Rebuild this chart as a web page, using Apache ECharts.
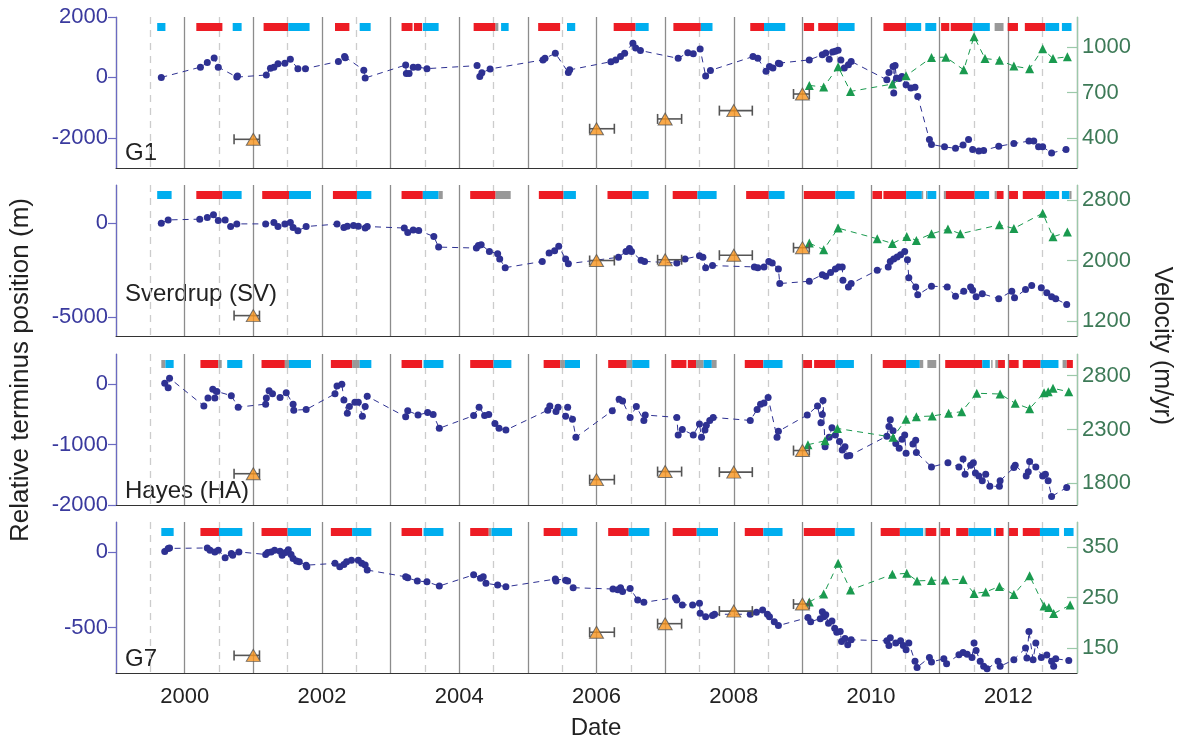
<!DOCTYPE html>
<html>
<head>
<meta charset="utf-8">
<script src="https://cdn.jsdelivr.net/npm/echarts@6/dist/echarts.min.js"></script>
<style>
  html, body { margin: 0; padding: 0; background: #fff; }
  #chart { width: 1182px; height: 742px; }
</style>
</head>
<body>
<div id="chart"></div>
<script>
// x axis
const xMin = 1999
const xMax = 2013
const xLabelYears = [2000, 2002, 2004, 2006, 2008, 2010, 2012]

// panel names
const panelNames = ['G1', 'Sverdrup (SV)', 'Hayes (HA)', 'G7']

// left (terminus) and right (velocity) axis ranges and tick labels
const leftRanges = [[-3000, 2000], [-6000, 2000], [-2000, 500], [-800, 200]]
const leftTicks = [[-2000, 0, 2000], [-5000, 0], [-2000, -1000, 0], [-500, 0]]
const rightRanges = [[200, 1200], [1000, 3000], [1600, 3000], [100, 400]]
const rightTicks = [[400, 700, 1000], [1200, 2000, 2800], [1800, 2300, 2800], [150, 250, 350]]

// terminus positions [decimal year, m]
const g1Pos = [
  [1999.66, 0], [2000.23, 340], [2000.33, 490], [2000.43, 640], [2000.49, 340], [2000.76, 10], [2000.77, 50],
  [2001.19, 80], [2001.25, 300], [2001.30, 340], [2001.36, 450], [2001.46, 470], [2001.54, 600], [2001.65, 290], [2001.76, 290],
  [2002.24, 530], [2002.33, 690], [2002.34, 650], [2002.61, 240], [2002.63, -20],
  [2003.22, 410], [2003.23, 130], [2003.27, 130], [2003.33, 340], [2003.40, 340], [2003.53, 290],
  [2004.26, 390], [2004.30, 30], [2004.33, 150], [2004.45, 280],
  [2005.22, 580], [2005.25, 630], [2005.40, 800], [2005.59, 160], [2005.61, 250],
  [2006.21, 520], [2006.28, 580], [2006.35, 690], [2006.41, 800], [2006.53, 1130], [2006.57, 970], [2006.64, 890],
  [2007.19, 630], [2007.33, 820], [2007.41, 780], [2007.51, 940], [2007.59, 50], [2007.66, 230],
  [2008.28, 690], [2008.35, 630], [2008.47, 200], [2008.52, 360], [2008.57, 310], [2008.65, 470], [2008.67, 450],
  [2009.10, 580], [2009.29, 750], [2009.34, 810], [2009.39, 600], [2009.44, 840], [2009.48, 870], [2009.52, 900],
  [2009.56, 580], [2009.61, 310], [2009.67, 420], [2009.71, 530],
  [2010.23, -80], [2010.26, 160], [2010.32, 360], [2010.33, -520], [2010.35, 390], [2010.37, -20], [2010.41, -40],
  [2010.45, 30], [2010.51, -240], [2010.58, -350], [2010.64, -330], [2010.68, -630], [2010.85, -2060], [2010.88, -2220],
  [2011.07, -2300], [2011.23, -2350], [2011.34, -2240], [2011.42, -2060], [2011.48, -2390], [2011.57, -2440], [2011.64, -2420],
  [2011.86, -2280], [2012.08, -2190], [2012.30, -2110], [2012.37, -2110], [2012.44, -2300], [2012.50, -2300],
  [2012.63, -2500], [2012.84, -2390]
]
const svPos = [
  [1999.66, -20], [1999.76, 150], [2000.22, 190], [2000.33, 280], [2000.42, 430], [2000.49, 120], [2000.59, 150],
  [2000.67, -200], [2000.76, -60], [2001.18, -60], [2001.30, 10], [2001.36, -200], [2001.46, -60], [2001.54, 10],
  [2001.58, -250], [2001.65, -430], [2001.77, -200], [2002.22, -70], [2002.32, -250], [2002.37, -180], [2002.46, -150],
  [2002.53, -180], [2002.63, -280], [2002.66, -200], [2003.20, -280], [2003.25, -520], [2003.33, -380], [2003.41, -410],
  [2003.63, -730], [2003.70, -1290], [2004.25, -1340], [2004.28, -1200], [2004.32, -1160], [2004.44, -1520],
  [2004.56, -1640], [2004.59, -1920], [2004.67, -2380], [2005.21, -2050], [2005.31, -1600], [2005.39, -1480],
  [2005.45, -1250], [2005.55, -1920], [2005.59, -2170], [2006.32, -1830], [2006.43, -1520], [2006.48, -1360],
  [2006.51, -1520], [2006.65, -1990], [2006.70, -2050], [2007.17, -2130], [2007.29, -1920], [2007.50, -1750],
  [2007.55, -1830], [2007.59, -2390], [2007.69, -2270], [2008.30, -2340], [2008.35, -2390], [2008.44, -2340],
  [2008.51, -2050], [2008.56, -2130], [2008.65, -2450], [2008.67, -3220], [2009.10, -3100], [2009.29, -2750],
  [2009.34, -2840], [2009.41, -2630], [2009.48, -2450], [2009.53, -2340], [2009.58, -2340], [2009.59, -3050],
  [2009.67, -3400], [2009.71, -3220], [2010.09, -2520], [2010.25, -2340], [2010.28, -2050], [2010.33, -1920],
  [2010.38, -1810], [2010.43, -1690], [2010.49, -1520], [2010.53, -1960], [2010.55, -2920], [2010.65, -3400],
  [2010.68, -3820], [2010.88, -3360], [2011.11, -3400], [2011.23, -3890], [2011.35, -3630], [2011.45, -3400],
  [2011.48, -3580], [2011.53, -3920], [2011.62, -3760], [2011.86, -4030], [2012.05, -3630], [2012.09, -3980],
  [2012.25, -3540], [2012.34, -3330], [2012.48, -3450], [2012.56, -3710], [2012.63, -3920], [2012.69, -4030],
  [2012.85, -4330]
]
const haPos = [
  [1999.71, 15], [1999.76, -60], [1999.78, 100], [2000.28, -360], [2000.34, -230], [2000.41, -85], [2000.44, -230],
  [2000.47, -120], [2000.68, -190], [2000.78, -380], [2001.18, -330], [2001.19, -230], [2001.23, -110], [2001.28, -160],
  [2001.39, -220], [2001.48, -140], [2001.58, -330], [2001.59, -430], [2001.77, -420], [2002.19, -160], [2002.22, -30],
  [2002.29, 0], [2002.32, -260], [2002.37, -480], [2002.40, -370], [2002.48, -300], [2002.53, -300], [2002.59, -530],
  [2002.63, -370], [2002.66, -200], [2003.22, -540], [2003.25, -440], [2003.40, -510], [2003.54, -470], [2003.62, -500],
  [2003.71, -730], [2004.21, -520], [2004.29, -380], [2004.37, -520], [2004.43, -500], [2004.52, -650], [2004.58, -730],
  [2004.68, -760], [2005.29, -430], [2005.32, -360], [2005.41, -450], [2005.44, -380], [2005.55, -530], [2005.58, -380],
  [2005.65, -580], [2005.70, -880], [2006.23, -440], [2006.33, -250], [2006.38, -280], [2006.49, -550], [2006.58, -370],
  [2006.69, -600], [2006.71, -510], [2007.17, -550], [2007.19, -840], [2007.25, -750], [2007.41, -840], [2007.50, -660],
  [2007.53, -880], [2007.58, -760], [2007.60, -680], [2007.65, -600], [2007.70, -550], [2008.24, -600], [2008.34, -420],
  [2008.39, -330], [2008.44, -310], [2008.50, -220], [2008.63, -880], [2008.65, -780], [2009.07, -510], [2009.22, -360],
  [2009.27, -640], [2009.29, -500], [2009.30, -270], [2009.33, -1035], [2009.39, -880], [2009.43, -720], [2009.48, -840],
  [2009.54, -950], [2009.58, -1090], [2009.62, -1035], [2009.65, -1190], [2009.69, -1180], [2010.23, -860], [2010.26, -700],
  [2010.28, -590], [2010.32, -770], [2010.36, -980], [2010.41, -1060], [2010.45, -910], [2010.49, -840], [2010.51, -1145],
  [2010.61, -990], [2010.65, -930], [2010.66, -1130], [2010.88, -1370], [2011.12, -1300], [2011.28, -1370], [2011.34, -1240],
  [2011.37, -1490], [2011.45, -1340], [2011.49, -1300], [2011.52, -1470], [2011.57, -1520], [2011.62, -1600], [2011.67, -1490],
  [2011.73, -1690], [2011.87, -1690], [2011.88, -1600], [2012.08, -1380], [2012.10, -1340], [2012.26, -1520], [2012.29, -1450],
  [2012.31, -1280], [2012.40, -1370], [2012.50, -1520], [2012.54, -1490], [2012.58, -1600], [2012.63, -1860], [2012.85, -1710]
]
const g7Pos = [
  [1999.71, 5], [1999.76, 25], [1999.78, 28], [2000.33, 28], [2000.37, 13], [2000.44, 2], [2000.49, 13], [2000.59, -37],
  [2000.68, -9], [2000.70, -20], [2000.79, 2], [2001.18, -15], [2001.21, -2], [2001.26, 2], [2001.31, 13], [2001.39, 6],
  [2001.42, -20], [2001.47, -2], [2001.51, 17], [2001.55, -15], [2001.58, -41], [2001.63, -59], [2001.67, -63], [2001.77, -86],
  [2001.78, -96], [2002.19, -74], [2002.26, -96], [2002.32, -81], [2002.36, -64], [2002.43, -53], [2002.53, -53], [2002.58, -74],
  [2002.63, -85], [2002.66, -118], [2003.22, -163], [2003.25, -170], [2003.39, -191], [2003.53, -196], [2003.71, -224],
  [2004.21, -150], [2004.31, -173], [2004.35, -163], [2004.39, -206], [2004.56, -218], [2004.68, -229], [2005.40, -178],
  [2005.41, -191], [2005.55, -185], [2005.58, -191], [2005.66, -235], [2006.24, -244], [2006.31, -249], [2006.35, -235],
  [2006.38, -260], [2006.49, -240], [2006.60, -316], [2006.69, -332], [2007.15, -301], [2007.17, -316], [2007.25, -349],
  [2007.40, -349], [2007.50, -338], [2007.51, -404], [2007.59, -427], [2007.69, -420], [2007.72, -411], [2008.24, -411],
  [2008.33, -398], [2008.42, -382], [2008.49, -411], [2008.52, -427], [2008.59, -460], [2008.65, -486], [2009.08, -433],
  [2009.12, -460], [2009.26, -440], [2009.29, -394], [2009.31, -427], [2009.34, -415], [2009.38, -470], [2009.43, -456],
  [2009.47, -503], [2009.50, -530], [2009.55, -525], [2009.57, -592], [2009.62, -572], [2009.66, -613], [2009.71, -580],
  [2010.23, -587], [2010.26, -618], [2010.28, -567], [2010.36, -602], [2010.43, -587], [2010.47, -618], [2010.51, -646],
  [2010.55, -602], [2010.64, -723], [2010.67, -763], [2010.85, -697], [2010.88, -727], [2011.06, -706], [2011.10, -738],
  [2011.28, -679], [2011.34, -664], [2011.40, -675], [2011.47, -697], [2011.50, -602], [2011.53, -651], [2011.59, -723],
  [2011.64, -756], [2011.69, -772], [2011.85, -723], [2011.88, -756], [2012.08, -712], [2012.25, -635], [2012.27, -701],
  [2012.30, -525], [2012.36, -712], [2012.40, -602], [2012.48, -697], [2012.56, -681], [2012.63, -723], [2012.66, -756],
  [2012.69, -706], [2012.88, -717]
]

// velocity time series [decimal year, m/yr]
const g1Vel = [
  [2009.10, 747], [2009.31, 736], [2009.52, 870], [2009.70, 707], [2010.31, 756], [2010.51, 811], [2010.88, 932],
  [2011.09, 934], [2011.35, 850], [2011.50, 1070], [2011.66, 925], [2011.87, 914], [2012.08, 875], [2012.31, 857],
  [2012.50, 989], [2012.65, 925], [2012.86, 936]
]
const svVel = [
  [2009.10, 2231], [2009.31, 2143], [2009.52, 2429], [2010.09, 2288], [2010.31, 2226], [2010.52, 2319], [2010.66, 2266],
  [2010.88, 2354], [2011.12, 2416], [2011.30, 2354], [2011.87, 2473], [2012.08, 2424], [2012.50, 2627], [2012.65, 2314],
  [2012.86, 2376]
]
const haVel = [
  [2009.08, 2159], [2009.33, 2195], [2009.51, 2310], [2010.32, 2228], [2010.51, 2395], [2010.66, 2419], [2010.89, 2425],
  [2011.13, 2450], [2011.32, 2465], [2011.54, 2636], [2011.88, 2629], [2012.10, 2543], [2012.31, 2493], [2012.52, 2641],
  [2012.58, 2650], [2012.65, 2682], [2012.88, 2650]
]
const g7Vel = [
  [2009.10, 241], [2009.31, 257], [2009.52, 318], [2009.70, 265], [2010.31, 296], [2010.52, 298], [2010.67, 283],
  [2010.88, 284], [2011.08, 285], [2011.34, 286], [2011.50, 258], [2011.67, 261], [2011.87, 272], [2012.08, 256],
  [2012.31, 293], [2012.52, 233], [2012.59, 230], [2012.66, 218], [2012.90, 235]
]

// earlier velocity estimates with date ranges
const orangeDates = [2001, 2006, 2007, 2008, 2009]
const orangeBefore = [0.28, 0.10, 0.11, 0.21, 0.13]
const orangeAfter = [0.09, 0.26, 0.24, 0.27, 0.10]
const g1Orange = [390, 460, 525, 580, 690]
const svOrange = [1270, 2000, 2010, 2070, 2170]
const haOrange = [1890, 1835, 1910, 1905, 2105]
const g7Orange = [135, 181, 198, 223, 237]

// season bars [start, end, kind]  r = red, b = blue, g = gray
const g1Bars = [
  [1999.60, 1999.72, 'b'], [2000.17, 2000.55, 'r'], [2000.70, 2000.83, 'b'], [2001.15, 2001.51, 'r'], [2001.51, 2001.82, 'b'],
  [2002.19, 2002.40, 'r'], [2002.55, 2002.71, 'b'], [2003.16, 2003.32, 'r'], [2003.34, 2003.46, 'r'], [2003.47, 2003.70, 'b'],
  [2004.21, 2004.53, 'r'], [2004.53, 2004.57, 'g'], [2004.61, 2004.72, 'b'], [2005.15, 2005.47, 'r'], [2005.57, 2005.69, 'b'],
  [2006.25, 2006.57, 'r'], [2006.57, 2006.76, 'b'], [2007.12, 2007.52, 'r'], [2007.52, 2007.69, 'b'], [2008.24, 2008.44, 'r'],
  [2008.44, 2008.75, 'b'], [2009.02, 2009.17, 'r'], [2009.23, 2009.52, 'r'], [2009.52, 2009.76, 'b'], [2010.18, 2010.51, 'r'],
  [2010.51, 2010.73, 'b'], [2010.79, 2010.95, 'b'], [2011.02, 2011.14, 'r'], [2011.16, 2011.48, 'r'], [2011.48, 2011.73, 'b'],
  [2011.80, 2011.93, 'g'], [2011.99, 2012.14, 'r'], [2012.24, 2012.54, 'r'], [2012.54, 2012.74, 'b'], [2012.78, 2012.92, 'b']
]
const svBars = [
  [1999.60, 1999.81, 'b'], [2000.17, 2000.55, 'r'], [2000.55, 2000.83, 'b'], [2001.13, 2001.52, 'r'], [2001.52, 2001.84, 'b'],
  [2002.16, 2002.51, 'r'], [2002.51, 2002.72, 'b'], [2003.16, 2003.47, 'r'], [2003.47, 2003.70, 'b'], [2003.70, 2003.76, 'g'],
  [2004.16, 2004.53, 'r'], [2004.53, 2004.75, 'g'], [2005.16, 2005.52, 'r'], [2005.52, 2005.70, 'b'], [2006.16, 2006.52, 'r'],
  [2006.52, 2006.76, 'b'], [2007.11, 2007.47, 'r'], [2007.47, 2007.75, 'b'], [2008.18, 2008.51, 'r'], [2008.51, 2008.74, 'b'],
  [2009.02, 2009.48, 'r'], [2009.48, 2009.76, 'b'], [2010.02, 2010.16, 'r'], [2010.18, 2010.51, 'r'], [2010.51, 2010.74, 'b'],
  [2010.74, 2010.76, 'g'], [2010.80, 2010.82, 'g'], [2010.82, 2010.95, 'b'], [2011.06, 2011.09, 'g'], [2011.09, 2011.51, 'r'],
  [2011.51, 2011.72, 'b'], [2011.80, 2011.83, 'g'], [2011.83, 2011.93, 'r'], [2012.01, 2012.14, 'r'], [2012.21, 2012.54, 'r'],
  [2012.54, 2012.74, 'b'], [2012.78, 2012.89, 'b'], [2012.89, 2012.92, 'g']
]
const haBars = [
  [1999.66, 1999.72, 'g'], [1999.72, 1999.84, 'b'], [2000.23, 2000.49, 'r'], [2000.49, 2000.54, 'g'], [2000.62, 2000.84, 'b'],
  [2001.12, 2001.46, 'r'], [2001.46, 2001.52, 'g'], [2001.52, 2001.84, 'b'], [2002.13, 2002.44, 'r'], [2002.44, 2002.55, 'g'],
  [2002.55, 2002.72, 'b'], [2003.16, 2003.46, 'r'], [2003.48, 2003.77, 'b'], [2004.16, 2004.50, 'r'], [2004.50, 2004.76, 'b'],
  [2005.23, 2005.47, 'r'], [2005.47, 2005.54, 'g'], [2005.54, 2005.76, 'b'], [2006.17, 2006.44, 'r'], [2006.44, 2006.52, 'g'],
  [2006.52, 2006.77, 'b'], [2007.09, 2007.31, 'r'], [2007.33, 2007.45, 'r'], [2007.45, 2007.56, 'g'], [2007.56, 2007.68, 'b'],
  [2007.68, 2007.75, 'g'], [2008.16, 2008.43, 'r'], [2008.43, 2008.71, 'b'], [2009.01, 2009.14, 'r'], [2009.17, 2009.48, 'r'],
  [2009.48, 2009.75, 'b'], [2010.17, 2010.51, 'r'], [2010.51, 2010.71, 'b'], [2010.71, 2010.76, 'g'], [2010.82, 2010.95, 'g'],
  [2011.08, 2011.62, 'r'], [2011.62, 2011.73, 'b'], [2011.75, 2011.77, 'g'], [2011.81, 2011.85, 'g'], [2011.85, 2011.95, 'r'],
  [2012.01, 2012.15, 'r'], [2012.21, 2012.47, 'r'], [2012.47, 2012.73, 'b'], [2012.79, 2012.85, 'g'], [2012.85, 2012.94, 'r']
]
const g7Bars = [
  [1999.66, 1999.84, 'b'], [2000.23, 2000.50, 'r'], [2000.50, 2000.84, 'b'], [2001.12, 2001.50, 'r'], [2001.50, 2001.84, 'b'],
  [2002.13, 2002.44, 'r'], [2002.44, 2002.72, 'b'], [2003.16, 2003.46, 'r'], [2003.48, 2003.77, 'b'], [2004.16, 2004.43, 'r'],
  [2004.43, 2004.47, 'g'], [2004.47, 2004.77, 'b'], [2005.23, 2005.48, 'r'], [2005.48, 2005.72, 'b'], [2006.17, 2006.47, 'r'],
  [2006.47, 2006.77, 'b'], [2007.11, 2007.46, 'r'], [2007.46, 2007.77, 'b'], [2008.16, 2008.43, 'r'], [2008.43, 2008.71, 'b'],
  [2009.02, 2009.48, 'r'], [2009.48, 2009.76, 'b'], [2010.14, 2010.42, 'r'], [2010.42, 2010.76, 'b'], [2010.78, 2010.80, 'g'],
  [2010.80, 2010.95, 'r'], [2011.01, 2011.15, 'r'], [2011.24, 2011.42, 'r'], [2011.42, 2011.75, 'b'], [2011.79, 2011.82, 'b'],
  [2011.82, 2011.93, 'r'], [2012.01, 2012.14, 'r'], [2012.21, 2012.46, 'r'], [2012.46, 2012.74, 'b'], [2012.81, 2012.95, 'b']
]

const posSets = [g1Pos, svPos, haPos, g7Pos]
const velSets = [g1Vel, svVel, haVel, g7Vel]
const orangeSets = [g1Orange, svOrange, haOrange, g7Orange]
const barSets = [g1Bars, svBars, haBars, g7Bars]

const barColors = { r: '#ed1c24', b: '#00aeef', g: '#999999' }
const fontFamily = 'Liberation Sans, Arial, sans-serif'
const gridTops = [17, 185, 354, 522]
const gridHeight = 151
const nameCenters = [154, 295, 492, 660]

const plain = v => String(v)

const chart = echarts.init(document.getElementById('chart'))

const grids = gridTops.map(top => ({ left: 116, width: 961, top: top, height: gridHeight }))

const xAxes = gridTops.map((_, i) => ({
  type: 'value',
  gridIndex: i,
  min: xMin,
  max: xMax,
  interval: 1,
  axisLine: { show: true, onZero: false, lineStyle: { color: '#333', width: 1 } },
  axisTick: { show: false },
  axisLabel: {
    show: i === 3,
    customValues: xLabelYears,
    formatter: plain,
    color: '#222',
    fontSize: 22,
    fontFamily: fontFamily,
    margin: 13
  },
  splitLine: { show: true, lineStyle: { color: '#8c8c8c', width: 1.3 } },
  minorTick: { show: false, splitNumber: 2 },
  minorSplitLine: { show: true, lineStyle: { color: '#cccccc', width: 1.3, type: [7, 6] } }
}))

const yAxes = []
gridTops.forEach((_, i) => {
  yAxes.push({
    type: 'value',
    gridIndex: i,
    position: 'left',
    min: leftRanges[i][0],
    max: leftRanges[i][1],
    axisLine: { show: true, onZero: false, lineStyle: { color: '#6b6bc2', width: 1.2 } },
    axisTick: { show: true, customValues: leftTicks[i], length: 8, lineStyle: { color: '#6b6bc2', width: 1.2 } },
    axisLabel: { customValues: leftTicks[i], formatter: plain, color: '#3a3a9e', fontSize: 22, fontFamily: fontFamily, margin: 8 },
    splitLine: { show: false }
  })
  yAxes.push({
    type: 'value',
    gridIndex: i,
    position: 'right',
    min: rightRanges[i][0],
    max: rightRanges[i][1],
    axisLine: { show: true, onZero: false, lineStyle: { color: '#9cc9aa', width: 1.2 } },
    axisTick: { show: true, inside: true, customValues: rightTicks[i], length: 10, lineStyle: { color: '#9cc9aa', width: 1.2 } },
    axisLabel: { customValues: rightTicks[i], formatter: plain, color: '#3d7a57', fontSize: 22, fontFamily: fontFamily, margin: 5 },
    splitLine: { show: false }
  })
})

const series = []
gridTops.forEach((_, i) => {
  const bars = barSets[i]
  series.push({
    type: 'custom',
    xAxisIndex: i,
    yAxisIndex: i * 2,
    silent: true,
    z: 3,
    data: bars.map(b => [b[0], b[1]]),
    encode: { x: [0, 1] },
    renderItem: function (params, api) {
      const b = bars[params.dataIndex]
      const x0 = api.coord([b[0], 0])[0]
      const x1 = api.coord([b[1], 0])[0]
      const cs = params.coordSys
      return {
        type: 'rect',
        shape: { x: x0, y: cs.y + 6, width: x1 - x0, height: 8 },
        style: { fill: barColors[b[2]] }
      }
    }
  })
  series.push({
    type: 'line',
    xAxisIndex: i,
    yAxisIndex: i * 2,
    data: posSets[i],
    symbol: 'circle',
    symbolSize: 7,
    z: 4,
    itemStyle: { color: '#2e3192' },
    lineStyle: { color: '#2e3192', width: 1, type: [6, 5] }
  })
  series.push({
    type: 'line',
    xAxisIndex: i,
    yAxisIndex: i * 2 + 1,
    data: velSets[i],
    symbol: 'triangle',
    symbolSize: 9,
    z: 5,
    itemStyle: { color: '#1a9a4f' },
    lineStyle: { color: '#1a9a4f', width: 1, type: [6, 5] }
  })
  const orange = orangeSets[i]
  series.push({
    type: 'custom',
    xAxisIndex: i,
    yAxisIndex: i * 2 + 1,
    silent: true,
    z: 6,
    data: orangeDates.map((t, k) => [t, orange[k], t - orangeBefore[k], t + orangeAfter[k]]),
    encode: { x: [0, 2, 3], y: 1 },
    renderItem: function (params, api) {
      const c = api.coord([api.value(0), api.value(1)])
      const l = api.coord([api.value(2), api.value(1)])[0]
      const r = api.coord([api.value(3), api.value(1)])[0]
      const st = { stroke: '#555', lineWidth: 1.6 }
      return {
        type: 'group',
        children: [
          { type: 'line', shape: { x1: l, y1: c[1], x2: r, y2: c[1] }, style: st },
          { type: 'line', shape: { x1: l, y1: c[1] - 5, x2: l, y2: c[1] + 5 }, style: st },
          { type: 'line', shape: { x1: r, y1: c[1] - 5, x2: r, y2: c[1] + 5 }, style: st }
        ]
      }
    }
  })
  series.push({
    type: 'scatter',
    xAxisIndex: i,
    yAxisIndex: i * 2 + 1,
    data: orangeDates.map((t, k) => [t, orange[k]]),
    symbol: 'triangle',
    symbolSize: [14, 12],
    z: 7,
    itemStyle: { color: '#f7941d', borderColor: '#555', borderWidth: 1 }
  })
})

const graphics = panelNames.map((name, i) => ({
  type: 'text',
  left: 125,
  top: nameCenters[i] - 13,
  style: { text: name, font: '24px ' + fontFamily, fill: '#222' }
}))
graphics.push({
  type: 'text',
  x: 21,
  y: 370,
  rotation: Math.PI / 2,
  style: {
    text: 'Relative terminus position (m)',
    font: '26px ' + fontFamily,
    fill: '#222',
    align: 'center',
    verticalAlign: 'middle'
  }
})
graphics.push({
  type: 'text',
  x: 1162,
  y: 346,
  rotation: -Math.PI / 2,
  style: {
    text: 'Velocity (m/yr)',
    font: '25px ' + fontFamily,
    fill: '#222',
    align: 'center',
    verticalAlign: 'middle'
  }
})
graphics.push({
  type: 'text',
  x: 596,
  y: 728,
  style: { text: 'Date', font: '24px ' + fontFamily, fill: '#222', align: 'center', verticalAlign: 'middle' }
})

chart.setOption({
  animation: false,
  backgroundColor: '#fff',
  grid: grids,
  xAxis: xAxes,
  yAxis: yAxes,
  series: series,
  graphic: graphics
})
</script>
</body>
</html>
